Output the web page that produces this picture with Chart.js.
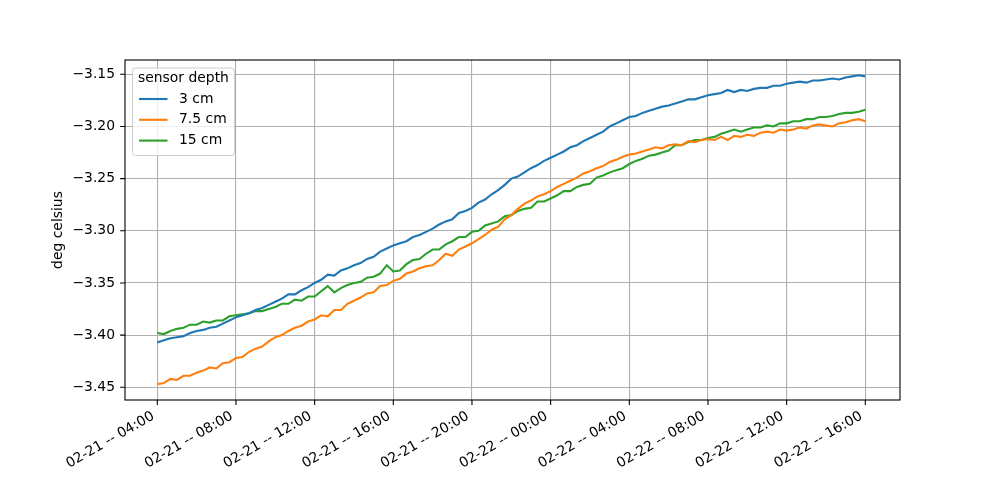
<!DOCTYPE html>
<html>
<head>
<meta charset="utf-8">
<script src="https://cdn.jsdelivr.net/npm/chart.js@4.4.1/dist/chart.umd.min.js"></script>
<style>
  html, body { margin: 0; padding: 0; background: #fff; }
  canvas { display: block; }
</style>
</head>
<body>
<canvas id="tempChart" width="1000" height="500"></canvas>
<script>
// Temperatura por profundidade do sensor, a cada 20 min (02-21 04:00 -> 02-22 16:00)
const seriesLabels = ['3 cm', '7.5 cm', '15 cm'];
const seriesColors = ['#1f77b4', '#ff7f0e', '#2ca02c'];

const depth3 = [
    -3.407, -3.405, -3.403, -3.402, -3.401, -3.398,
    -3.396, -3.395, -3.393, -3.392, -3.389, -3.386,
    -3.383, -3.381, -3.379, -3.376, -3.374, -3.371,
    -3.368, -3.365, -3.361, -3.361, -3.357, -3.354,
    -3.350, -3.347, -3.342, -3.343, -3.338, -3.336,
    -3.333, -3.331, -3.327, -3.325, -3.320, -3.317,
    -3.314, -3.312, -3.310, -3.306, -3.304, -3.301,
    -3.298, -3.294, -3.291, -3.289, -3.283, -3.281,
    -3.278, -3.273, -3.270, -3.265, -3.261, -3.256,
    -3.250, -3.248, -3.244, -3.240, -3.237, -3.233,
    -3.230, -3.227, -3.224, -3.220, -3.218, -3.214,
    -3.211, -3.208, -3.205, -3.200, -3.197, -3.194,
    -3.191, -3.190, -3.187, -3.185, -3.183, -3.181,
    -3.180, -3.178, -3.176, -3.174, -3.174, -3.172,
    -3.170, -3.169, -3.168, -3.165, -3.167, -3.165,
    -3.166, -3.164, -3.163, -3.163, -3.161, -3.161,
    -3.159, -3.158, -3.157, -3.158, -3.156, -3.156,
    -3.155, -3.154, -3.155, -3.153, -3.152, -3.151,
    -3.152
];

const depth7 = [
    -3.447, -3.446, -3.442, -3.443, -3.439, -3.439,
    -3.436, -3.434, -3.431, -3.432, -3.427, -3.426,
    -3.422, -3.421, -3.416, -3.413, -3.411, -3.406,
    -3.402, -3.400, -3.396, -3.393, -3.391, -3.387,
    -3.385, -3.381, -3.382, -3.376, -3.376, -3.370,
    -3.367, -3.364, -3.360, -3.359, -3.353, -3.352,
    -3.348, -3.346, -3.341, -3.339, -3.336, -3.334,
    -3.333, -3.328, -3.322, -3.324, -3.318, -3.315,
    -3.312, -3.308, -3.304, -3.299, -3.296, -3.289,
    -3.285, -3.279, -3.274, -3.271, -3.267, -3.265,
    -3.262, -3.258, -3.255, -3.252, -3.249, -3.245,
    -3.243, -3.240, -3.238, -3.234, -3.232, -3.229,
    -3.227, -3.226, -3.224, -3.222, -3.220, -3.221,
    -3.218, -3.217, -3.218, -3.214, -3.215, -3.213,
    -3.212, -3.213, -3.210, -3.213, -3.209, -3.210,
    -3.208, -3.209, -3.206, -3.205, -3.206, -3.203,
    -3.204, -3.203, -3.201, -3.202, -3.199, -3.198,
    -3.199, -3.200, -3.197, -3.196, -3.194, -3.193,
    -3.195
];

const depth15 = [
    -3.398, -3.399, -3.396, -3.394, -3.393, -3.390,
    -3.390, -3.387, -3.388, -3.386, -3.386, -3.382,
    -3.381, -3.380, -3.379, -3.377, -3.377, -3.375,
    -3.373, -3.370, -3.370, -3.366, -3.367, -3.363,
    -3.363, -3.358, -3.353, -3.359, -3.355, -3.352,
    -3.350, -3.349, -3.345, -3.344, -3.341, -3.333,
    -3.339, -3.338, -3.332, -3.328, -3.327, -3.322,
    -3.318, -3.318, -3.313, -3.310, -3.306, -3.306,
    -3.301, -3.300, -3.295, -3.293, -3.291, -3.286,
    -3.285, -3.281, -3.279, -3.278, -3.272, -3.272,
    -3.269, -3.266, -3.262, -3.262, -3.258, -3.256,
    -3.255, -3.249, -3.247, -3.244, -3.242, -3.240,
    -3.236, -3.233, -3.231, -3.228, -3.227, -3.225,
    -3.223, -3.218, -3.218, -3.215, -3.213, -3.213,
    -3.211, -3.210, -3.207, -3.205, -3.203, -3.205,
    -3.203, -3.201, -3.201, -3.199, -3.200, -3.197,
    -3.197, -3.195, -3.195, -3.193, -3.193, -3.191,
    -3.191, -3.190, -3.188, -3.187, -3.187, -3.186,
    -3.184
];

// horas desde 02-21 00:00
const xTicks = [4, 8, 12, 16, 20, 24, 28, 32, 36, 40];
const yTicks = [-3.45, -3.40, -3.35, -3.30, -3.25, -3.20, -3.15];
const hours = depth3.map((_, i) => 4 + i / 3);

const FONT = 'DejaVu Sans';
const FS = 13.9;

function tickLabelX(h) {
    const day = 21 + Math.floor(h / 24);
    const hh = String(h % 24).padStart(2, '0');
    return '02-' + day + ' -- ' + hh + ':00';
}

// Legenda dentro do gráfico (estilo matplotlib)
const legendBox = {
    id: 'legendBox',
    afterDatasetsDraw(chart) {
        const ctx = chart.ctx;
        const a = chart.chartArea;
        const x = a.left + 7, y = a.top + 7.5, w = 102, h = 87.5;
        ctx.save();
        ctx.beginPath();
        ctx.roundRect(x + 0.5, y + 0.5, w, h, 3);
        ctx.fillStyle = 'rgba(255,255,255,0.8)';
        ctx.fill();
        ctx.strokeStyle = '#cccccc';
        ctx.lineWidth = 1;
        ctx.stroke();
        ctx.font = FS + 'px "' + FONT + '"';
        ctx.fillStyle = '#000';
        ctx.textBaseline = 'middle';
        ctx.textAlign = 'left';
        ctx.fillText('sensor depth', x + 6, y + 11);
        chart.data.datasets.forEach((ds, i) => {
            const ly = y + 31.5 + i * 20.8;
            ctx.strokeStyle = ds.borderColor;
            ctx.lineWidth = 2.1;
            ctx.beginPath();
            ctx.moveTo(x + 7, ly);
            ctx.lineTo(x + 35.5, ly);
            ctx.stroke();
            ctx.fillText(ds.label, x + 47, ly);
        });
        ctx.restore();
    }
};

// Moldura dos eixos e marcas dos ticks em preto
const axesFrame = {
    id: 'axesFrame',
    afterDraw(chart) {
        const ctx = chart.ctx;
        const a = chart.chartArea;
        const xs = chart.scales.x, ys = chart.scales.y;
        ctx.save();
        ctx.strokeStyle = '#000';
        ctx.lineWidth = 1.1;
        ctx.strokeRect(a.left, a.top, a.right - a.left, a.bottom - a.top);
        ctx.beginPath();
        xTicks.forEach(t => {
            const px = xs.getPixelForValue(t);
            ctx.moveTo(px, a.bottom);
            ctx.lineTo(px, a.bottom + 4.9);
        });
        yTicks.forEach(t => {
            const py = ys.getPixelForValue(t);
            ctx.moveTo(a.left, py);
            ctx.lineTo(a.left - 4.9, py);
        });
        ctx.stroke();
        ctx.restore();
    }
};

const ctx = document.getElementById('tempChart').getContext('2d');
new Chart(ctx, {
    type: 'line',
    data: {
        datasets: [depth3, depth7, depth15].map((vals, i) => ({
            label: seriesLabels[i],
            data: vals.map((v, j) => ({ x: hours[j], y: v })),
            borderColor: seriesColors[i],
            backgroundColor: seriesColors[i],
            borderWidth: 2.1,
            pointRadius: 0,
            tension: 0,
            fill: false
        }))
    },
    options: {
        responsive: false,
        animation: false,
        layout: { padding: { top: 60, right: 100, left: 0, bottom: 0 } },
        plugins: {
            legend: { display: false },
            tooltip: { enabled: false }
        },
        scales: {
            x: {
                type: 'linear',
                min: 2.358,
                max: 41.764,
                afterBuildTicks: s => { s.ticks = xTicks.map(v => ({ value: v })); },
                afterFit: s => { s.height = 100; s.paddingLeft = 0; s.paddingRight = 0; },
                grid: { color: '#b0b0b0', lineWidth: 1.1, drawTicks: false },
                border: { display: false },
                ticks: {
                    autoSkip: false,
                    minRotation: 30,
                    maxRotation: 30,
                    padding: 8,
                    labelOffset: -4,
                    color: '#000',
                    font: { family: FONT, size: FS },
                    callback: v => tickLabelX(v)
                }
            },
            y: {
                min: -3.4622,
                max: -3.1363,
                afterBuildTicks: s => { s.ticks = yTicks.map(v => ({ value: v })); },
                afterFit: s => { s.width = 125; s.paddingTop = 0; s.paddingBottom = 0; },
                grid: { color: '#b0b0b0', lineWidth: 1.1, drawTicks: false },
                border: { display: false },
                title: {
                    display: true,
                    text: 'deg celsius',
                    color: '#000',
                    font: { family: FONT, size: FS },
                    padding: { top: 50, bottom: 0 }
                },
                ticks: {
                    padding: 10,
                    color: '#000',
                    font: { family: FONT, size: FS },
                    callback: v => '\u2212' + Math.abs(v).toFixed(2)
                }
            }
        }
    },
    plugins: [legendBox, axesFrame]
});
</script>
</body>
</html>
